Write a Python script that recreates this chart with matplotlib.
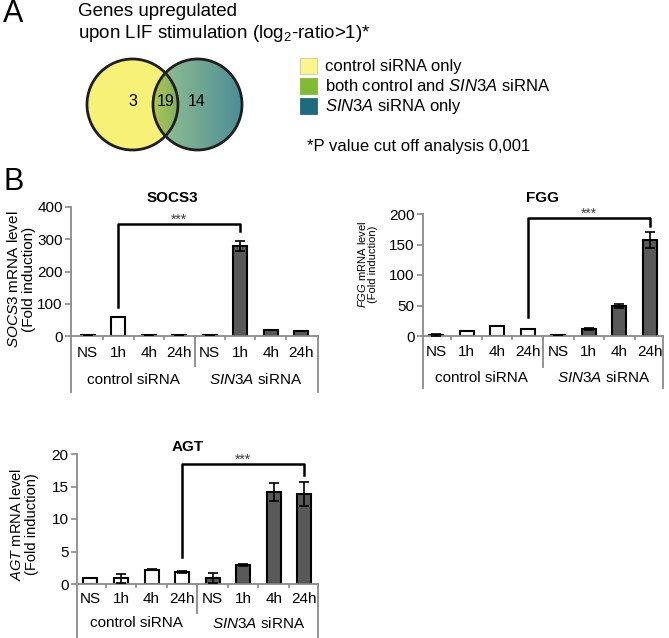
import numpy as np
import matplotlib
matplotlib.use("Agg")
import matplotlib.pyplot as plt
from matplotlib.patches import Ellipse, Rectangle
import matplotlib.transforms as mtransforms

plt.rcParams['font.family'] = ['Liberation Sans', 'DejaVu Sans']
plt.rcParams['mathtext.fontset'] = 'custom'
plt.rcParams['mathtext.rm'] = 'Liberation Sans'
plt.rcParams['mathtext.it'] = 'Liberation Sans:italic'
plt.rcParams['mathtext.bf'] = 'Liberation Sans:bold'
plt.rcParams['mathtext.default'] = 'regular'

# ---- data ----
venn_counts = [3, 19, 14]   # control only, both, SIN3A only
legend_labels = ["control siRNA only",
                 r"both control and $\mathit{SIN3A}$ siRNA",
                 r"$\mathit{SIN3A}$ siRNA only"]
legend_colors = ["#FBF68C", "#80BC33", "#1E6B7B"]

cats = ["NS", "1h", "4h", "24h", "NS", "1h", "4h", "24h"]
groups = ["control siRNA", r"$\mathit{SIN3A}$ siRNA"]

socs3_vals = [4, 58, 4, 4, 4, 280, 20, 16]
socs3_err = [0, 0, 0, 0, 0, 15, 0, 0]
fgg_vals = [2, 9, 16, 11, 2, 11, 49, 157]
fgg_err = [2, 0, 0, 0, 0, 1.5, 3, 13]
agt_vals = [1.0, 0.9, 2.2, 1.85, 0.95, 2.9, 14.1, 13.9]
agt_err = [0, 0.7, 0.1, 0.15, 0.8, 0.15, 1.4, 1.85]

# brackets: (left idx, right idx, left end, top, right end)
socs3_bracket = (1, 5, 90, 347, 326)
fgg_bracket = (3, 7, 31, 194, 180)
agt_bracket = (3, 7, 4.2, 18.5, 16.8)

W, H = 669, 638
GRAY = "#8a8a8a"
DARK = "#595959"

fig = plt.figure(figsize=(W / 100, H / 100), dpi=100)

# overlay in pixel coords for panel A and labels
ov = fig.add_axes([0, 0, 1, 1])
ov.axis("off")

ov.text(3, 14, "A", fontsize=22, va="center", ha="left")
ov.text(3, 182, "B", fontsize=22, va="center", ha="left")
ov.text(78, 12, "Genes upregulated", fontsize=13.5, va="center")
ov.text(78, 33, "upon LIF stimulation (log$_2$-ratio>1)*", fontsize=13.5, va="center")

# venn with gradient fill
lc, lw_, lh = (132.5, 104.5), 91, 91
rc, rw, rh = (197.5, 104.5), 89, 91
xs = np.linspace(84, 246, 648)
ys = np.linspace(55, 155, 400)
X, Y = np.meshgrid(xs, ys)
inL = ((X - lc[0]) / (lw_ / 2)) ** 2 + ((Y - lc[1]) / (lh / 2)) ** 2 <= 1
inR = ((X - rc[0]) / (rw / 2)) ** 2 + ((Y - rc[1]) / (rh / 2)) ** 2 <= 1
img = np.zeros(X.shape + (4,))
yellow = np.array([0.97, 0.95, 0.47])
c0, c1 = np.array([0.60, 0.77, 0.57]), np.array([0.30, 0.55, 0.59])
o0, o1 = np.array([0.68, 0.78, 0.32]), np.array([0.50, 0.69, 0.40])
t = np.clip((X - 153) / (242 - 153), 0, 1)[..., None]
to = np.clip((X - 153) / (178 - 153), 0, 1)[..., None]
right_col = c0 + (c1 - c0) * t
over_col = o0 + (o1 - o0) * to
img[..., :3] = np.where(inL[..., None], yellow, right_col)
img[..., :3] = np.where((inL & inR)[..., None], over_col, img[..., :3])
img[..., 3] = (inL | inR).astype(float)
ov.imshow(img, extent=(84, 246, 155, 55), origin="upper", interpolation="bilinear", zorder=1)
ov.set_xlim(0, W)
ov.set_ylim(H, 0)
ov.add_patch(Ellipse(lc, lw_, lh, fill=False, edgecolor="#1e1e1e", lw=2, zorder=2))
ov.add_patch(Ellipse(rc, rw, rh, fill=False, edgecolor="#1e1e1e", lw=2, zorder=2))
for xpos, n in zip([133, 166, 197], venn_counts):
    ov.text(xpos, 101, str(n), fontsize=11.5, ha="center", va="center", zorder=3)

# legend
for i, (lab, col) in enumerate(zip(legend_labels, legend_colors)):
    yy = 58 + 20 * i
    ov.add_patch(Rectangle((300, yy), 17, 16, facecolor=col,
                           edgecolor="#c8c8a0" if i == 0 else col, lw=0.6))
    ov.text(325, yy + 8, lab, fontsize=12, va="center")
ov.text(307, 146, "*P value cut off analysis 0,001", fontsize=12, va="center")


def bar_panel(px_rect, xlim, vals, errs, ymax, yticks, title, title_x, title_off,
              bracket, tick_px, group_px, sep_px, outer_px):
    x0, ytop, x1, ybot = px_rect
    hpx = ybot - ytop
    ax = fig.add_axes([x0 / W, 1 - ybot / H, (x1 - x0) / W, hpx / H])
    ax.patch.set_alpha(0)
    x = np.arange(len(cats))
    colors = ["white"] * 4 + [DARK] * 4
    ax.bar(x, vals, 0.46, color=colors, edgecolor="black", linewidth=1.5, zorder=2)
    ax.errorbar(x, vals, yerr=errs, fmt="none", ecolor="black", elinewidth=1.2,
                capsize=3.5, capthick=1.2, zorder=3)
    ax.set_xlim(*xlim)
    ax.set_ylim(0, ymax)
    ax.set_yticks(yticks)
    ax.tick_params(axis="y", length=4, width=1.2, color=GRAY, labelsize=11, pad=2)
    for s in ["top", "right"]:
        ax.spines[s].set_visible(False)
    for s in ["left", "bottom"]:
        ax.spines[s].set_color(GRAY)
        ax.spines[s].set_linewidth(1.3)
    ax.set_xticks(x, cats)
    ax.tick_params(axis="x", which="major", length=0, labelsize=11,
                   pad=(tick_px - 7) / 1.389)
    ax.set_xticks(np.arange(0.5, 7, 1), minor=True)
    ax.tick_params(axis="x", which="minor", length=3, width=1.2, color=GRAY)

    trans = mtransforms.blended_transform_factory(ax.transData, ax.transAxes)
    ax.text(1.5, -(group_px + 1) / hpx, groups[0], transform=trans, ha="center", va="center", fontsize=11)
    ax.text(5.5, -(group_px + 1) / hpx, groups[1], transform=trans, ha="center", va="center", fontsize=11)
    ax.plot([3.5, 3.5], [0, -sep_px / hpx], transform=trans, color=GRAY, lw=1.3, clip_on=False)
    for xa in [0, 1]:
        ax.plot([xa, xa], [0, -outer_px / hpx], transform=ax.transAxes, color=GRAY,
                lw=1.3, clip_on=False)

    ax.text(title_x, 1 + title_off / hpx, title, transform=ax.transAxes, ha="center",
            va="center", fontsize=11, fontweight="bold")

    bl, br, ylo, ytop_b, yhi = bracket
    ax.plot([bl, bl, br, br], [ylo, ytop_b, ytop_b, yhi], color="black", lw=1.8,
            clip_on=False, zorder=4)
    ax.annotate("***", ((bl + br) / 2, ytop_b), xytext=(0, 0), textcoords="offset points",
                ha="center", va="baseline", fontsize=10, color="#404040",
                annotation_clip=False)
    return ax


bar_panel((71, 207, 318, 336), (-0.55, 7.55), socs3_vals, socs3_err, 400,
          [0, 100, 200, 300, 400], "SOCS3", 0.41, 9, socs3_bracket, 17, 43, 30, 56)
bar_panel((423, 214, 663, 336), (-0.43, 7.43), fgg_vals, fgg_err, 200,
          [0, 50, 100, 150, 200], "FGG", 0.496, 16, fgg_bracket, 16, 41, 31, 52)
bar_panel((77, 454, 318, 584), (-0.44, 7.45), agt_vals, agt_err, 20,
          [0, 5, 10, 15, 20], "AGT", 0.458, 7, agt_bracket, 15, 38, 29, 54)

# y labels
fig.text(21 / W, 1 - 279 / H, "$\\mathit{SOCS3}$ mRNA level\n(Fold induction)",
         rotation=90, ha="center", va="center", fontsize=11, linespacing=1.1,
         multialignment="center")
fig.text(367 / W, 1 - 264 / H, "$\\mathit{FGG}$ mRNA level\n(Fold induction)",
         rotation=90, ha="center", va="center", fontsize=8, linespacing=1.05,
         multialignment="center")
fig.text(24 / W, 1 - 524 / H, "$\\mathit{AGT}$ mRNA level\n(Fold induction)",
         rotation=90, ha="center", va="center", fontsize=10.5, linespacing=1.1,
         multialignment="center")

fig.savefig("out.png", dpi=100)
